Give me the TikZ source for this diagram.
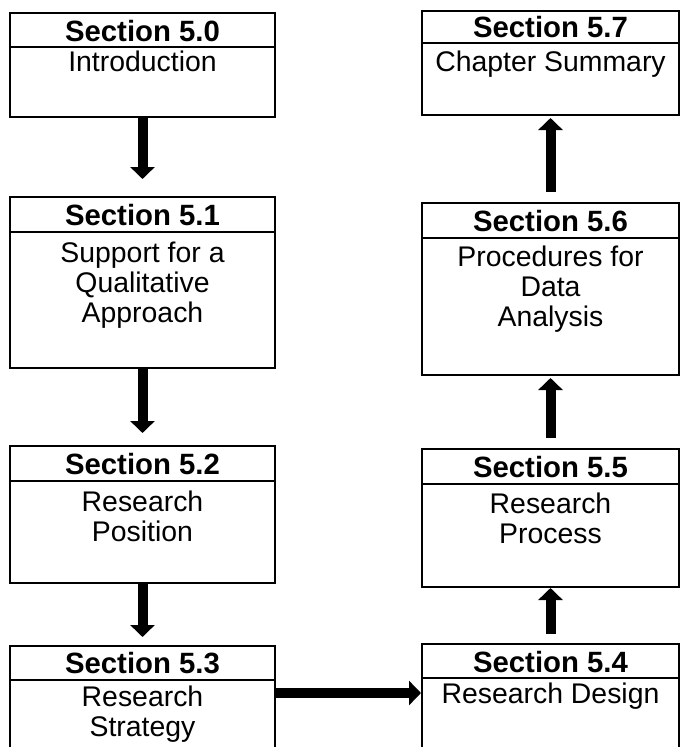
\documentclass[tikz,border=0pt]{standalone}
\usepackage{fontspec}
\setmainfont{Liberation Sans}
\usetikzlibrary{arrows.meta,fit}

\tikzset{
  secbox/.style={draw=black, line width=1.5pt, inner sep=0pt, fill=white},
  divider/.style={draw=black, line width=1.5pt},
  headtext/.style={anchor=base, inner sep=0pt, font=\fontsize{22}{24}\selectfont\bfseries},
  bodytext/.style={anchor=base, inner sep=0pt, font=\fontsize{21.3}{24}\selectfont},
  flow/.style={draw=black, line width=7.5pt,
    -{Triangle[width=18pt,length=9pt]}}
}

% one section box: name, x1, y1, x2, y2, divider y, header baseline, title
\newcommand\sectionbox[8]{%
  \node[secbox, fit={(#2,#3) (#4,#5)}] (#1) {};
  \draw[divider] (#2,#6) -- (#4,#6);
  \node[headtext] (#1h) at ({(#2+#4)/2},#7) {#8};
}
% body lines: box name, x centre, first baseline, list of lines
\newcommand\sectionlines[4]{%
  \foreach \ln [count=\i] in {#4}
    \node[bodytext] (#1l\i) at (#2,{#3+30*(\i-1)}) {\ln};
}

\begin{document}
\begin{tikzpicture}[x=0.75pt,y=-0.75pt]
  \useasboundingbox (0,0) rectangle (681,747);
  \clip (0,0) rectangle (681,747);

  % left column, top to bottom
  \sectionbox{s50}{10}{13}{275}{117}{47}{41}{Section 5.0}
  \sectionlines{s50}{142.5}{71}{Introduction}
  \sectionbox{s51}{10}{197}{275}{368}{232}{225}{Section 5.1}
  \sectionlines{s51}{142.5}{262}{Support for a,Qualitative,Approach}
  \sectionbox{s52}{10}{446}{275}{583}{481}{474}{Section 5.2}
  \sectionlines{s52}{142.5}{511}{Research,Position}
  \sectionbox{s53}{10}{646}{275}{800}{680}{673}{Section 5.3}
  \sectionlines{s53}{142.5}{706}{Research,Strategy}

  % right column, bottom to top
  \sectionbox{s54}{422}{644}{679}{800}{678}{672}{Section 5.4}
  \sectionlines{s54}{550.5}{703}{Research Design}
  \sectionbox{s55}{422}{449}{679}{587}{484}{477}{Section 5.5}
  \sectionlines{s55}{550.5}{513}{Research,Process}
  \sectionbox{s56}{422}{203}{679}{375}{238}{231}{Section 5.6}
  \sectionlines{s56}{550.5}{266}{Procedures for,Data,Analysis}
  \sectionbox{s57}{422}{11}{679}{115}{43}{37}{Section 5.7}
  \sectionlines{s57}{550.5}{71}{Chapter Summary}

  % flow between sections
  \draw[flow, shorten >=12.75pt] (s50.south) -- (s51.north);
  \draw[flow, shorten >=9pt] (s51.south) -- (s52.north);
  \draw[flow, shorten >=6pt] (s52.south) -- (s53.north);
  \coordinate (h53) at ([yshift=-36pt]s53.north east);
  \draw[flow] (h53) -- (h53 -| s54.west);
  \draw[flow, shorten <=6.75pt] (s54.north) -- (s55.south);
  \draw[flow, shorten <=7.5pt, shorten >=1.5pt] (s55.north) -- (s56.south);
  \draw[flow, shorten <=7.5pt, shorten >=1.5pt] (s56.north) -- (s57.south);
\end{tikzpicture}
\end{document}
